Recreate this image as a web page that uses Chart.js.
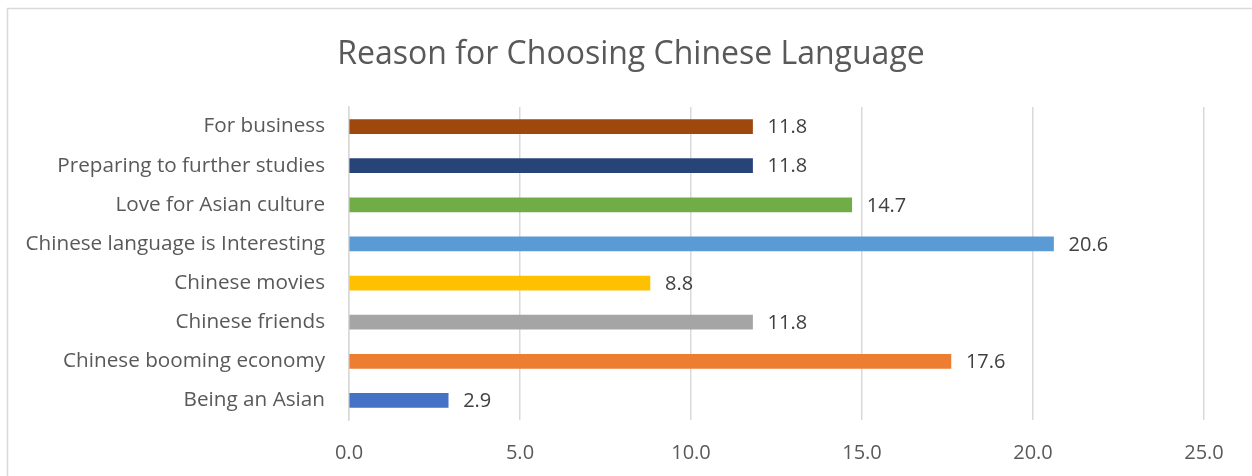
<!DOCTYPE html>
<html>
<head>
<meta charset="utf-8">
<script src="https://cdn.jsdelivr.net/npm/chart.js@4"></script>
<style>
  html, body { margin: 0; padding: 0; background: #fff; }
  #wrap { width: 1252px; height: 476px; }
</style>
</head>
<body>
<div id="wrap"><canvas id="myChart"></canvas></div>
<script>
const categories = [
  'For business',
  'Preparing to further studies',
  'Love for Asian culture',
  'Chinese language is Interesting',
  'Chinese movies',
  'Chinese friends',
  'Chinese booming economy',
  'Being an Asian'
];
const percentages = [11.8, 11.8, 14.7, 20.6, 8.8, 11.8, 17.6, 2.9];
const barColors = ['#9E480E', '#264478', '#70AD47', '#5B9BD5', '#FFC000', '#A5A5A5', '#ED7D31', '#4472C4'];
const xTicks = [0, 5, 10, 15, 20, 25];
const chartTitle = 'Reason for Choosing Chinese Language';

const FONT = '"Open Sans", sans-serif';

// grey frame round the chart and the title; the frame runs on past the right edge
// so the title is centred on the whole frame, not on the canvas
const framePlugin = {
  id: 'frame',
  beforeDraw(chart) {
    const ctx = chart.ctx;
    ctx.save();
    ctx.strokeStyle = '#d9d9d9';
    ctx.lineWidth = 1.5;
    ctx.strokeRect(7.5, 8.5, 1400, 600);
    ctx.font = '32px ' + FONT;
    ctx.fillStyle = '#595959';
    ctx.textAlign = 'center';
    ctx.textBaseline = 'middle';
    ctx.fillText(chartTitle, 631, 55);
    ctx.restore();
  }
};

// value labels at the end of every bar
const valueLabels = {
  id: 'valueLabels',
  afterDatasetsDraw(chart) {
    const ctx = chart.ctx;
    const meta = chart.getDatasetMeta(0);
    ctx.save();
    ctx.font = '20px ' + FONT;
    ctx.fillStyle = '#404040';
    ctx.textAlign = 'left';
    ctx.textBaseline = 'middle';
    meta.data.forEach((bar, i) => {
      ctx.fillText(percentages[i].toFixed(1), bar.x + 15, bar.y + 1);
    });
    ctx.restore();
  }
};

new Chart(document.getElementById('myChart'), {
  type: 'bar',
  data: {
    labels: categories,
    datasets: [{
      data: percentages,
      backgroundColor: barColors,
      barThickness: 14
    }]
  },
  options: {
    indexAxis: 'y',
    responsive: true,
    maintainAspectRatio: false,
    animation: false,
    layout: { padding: { left: 0, right: 48, top: 107, bottom: 0 } },
    plugins: {
      legend: { display: false },
      tooltip: { enabled: false },
      title: { display: false }
    },
    scales: {
      x: {
        min: 0,
        max: 25,
        afterBuildTicks(scale) {
          scale.ticks = xTicks.map(v => ({ value: v }));
        },
        afterFit(scale) { scale.height = 56; },
        grid: { color: '#d9d9d9', lineWidth: 1.5, drawTicks: false },
        border: { display: false },
        ticks: {
          color: '#595959',
          font: { family: FONT, size: 20 },
          padding: 21,
          callback: v => Number(v).toFixed(1)
        }
      },
      y: {
        afterFit(scale) { scale.width = 349; },
        grid: { display: false, drawTicks: false },
        border: { display: true, color: '#d9d9d9', width: 1.5 },
        ticks: {
          color: '#595959',
          font: { family: FONT, size: 20.7 },
          padding: 24
        }
      }
    }
  },
  plugins: [framePlugin, valueLabels]
});
</script>
</body>
</html>
